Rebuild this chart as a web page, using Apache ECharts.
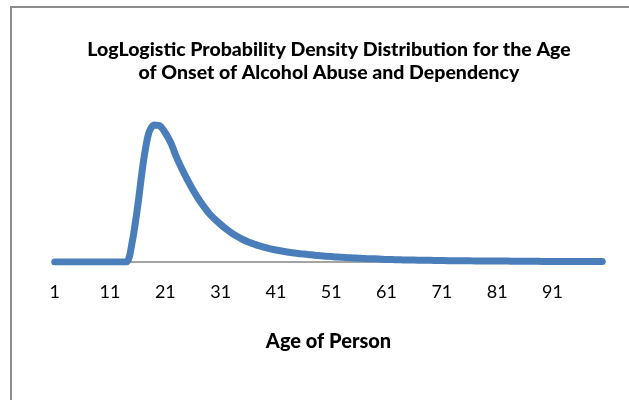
<!DOCTYPE html>
<html>
<head>
<meta charset="utf-8">
<script src="https://cdn.jsdelivr.net/npm/echarts@6/dist/echarts.min.js"></script>
<style>
* { margin: 0; padding: 0; }
#chart { width: 629px; height: 400px; background: #fff; }
</style>
</head>
<body>
<div id="chart"></div>
<script>
// ages 1..100
const ages = []
for (let i = 1; i <= 100; i++) ages.push(String(i))

// density, one value per age
const density = [
  0, 0, 0, 0, 0, 0, 0, 0, 0, 0,
  0, 0, 0, 0, 0.0133, 0.0373, 0.066, 0.086, 0.0913, 0.0907,
  0.086, 0.0793, 0.07, 0.062, 0.0547, 0.048, 0.042, 0.0367, 0.032, 0.0283,
  0.025, 0.022, 0.0193, 0.017, 0.015, 0.0133, 0.012, 0.0107, 0.0097, 0.0088,
  0.008, 0.0073, 0.0067, 0.0062, 0.0057, 0.0053, 0.0049, 0.0045, 0.0042, 0.0039,
  0.0036, 0.0033, 0.0031, 0.0029, 0.0027, 0.0025, 0.0023, 0.0022, 0.0021, 0.0019,
  0.0017, 0.0016, 0.0015, 0.0014, 0.0013, 0.0013, 0.0012, 0.0011, 0.0011, 0.001,
  0.001, 0.0009, 0.0009, 0.0008, 0.0008, 0.0008, 0.0007, 0.0007, 0.0007, 0.0006,
  0.0006, 0.0006, 0.0006, 0.0005, 0.0005, 0.0005, 0.0005, 0.0005, 0.0004, 0.0004,
  0.0004, 0.0004, 0.0004, 0.0004, 0.0004, 0.0003, 0.0003, 0.0003, 0.0003, 0.0003
]

const titleText = 'LogLogistic Probability Density Distribution for the Age\nof Onset of Alcohol Abuse and Dependency'
const xName = 'Age of Person'

const chart = echarts.init(document.getElementById('chart'))
chart.setOption({
  animation: false,
  graphic: [{
    type: 'rect',
    shape: { x: 11, y: 7, width: 700, height: 500 },
    style: { fill: 'none', stroke: '#8c8c8c', lineWidth: 2 }
  }],
  title: {
    text: titleText,
    left: 324,
    top: 33,
    textAlign: 'center',
    textStyle: {
      fontFamily: 'Lato',
      fontWeight: 900,
      fontSize: 19.5,
      lineHeight: 23,
      color: '#000'
    }
  },
  grid: { left: 52, right: 24, top: 112, bottom: 138 },
  xAxis: {
    type: 'category',
    data: ages,
    boundaryGap: true,
    name: xName,
    nameLocation: 'middle',
    nameGap: 70,
    nameTextStyle: {
      fontFamily: 'Lato',
      fontWeight: 900,
      fontSize: 20,
      color: '#000'
    },
    axisLine: { lineStyle: { color: '#868686', width: 1.5 } },
    axisTick: { interval: 9, length: 5, lineStyle: { color: '#868686', width: 1.5 } },
    axisLabel: {
      interval: 9,
      margin: 21,
      fontFamily: 'Lato',
      fontSize: 18,
      color: '#000'
    },
    splitLine: { show: false }
  },
  yAxis: {
    type: 'value',
    min: 0,
    max: 0.1,
    show: false
  },
  series: [{
    type: 'line',
    data: density,
    symbol: 'none',
    smooth: 0.3,
    lineStyle: { color: '#4a7ebb', width: 7, cap: 'round', join: 'round' }
  }]
})
</script>
</body>
</html>
